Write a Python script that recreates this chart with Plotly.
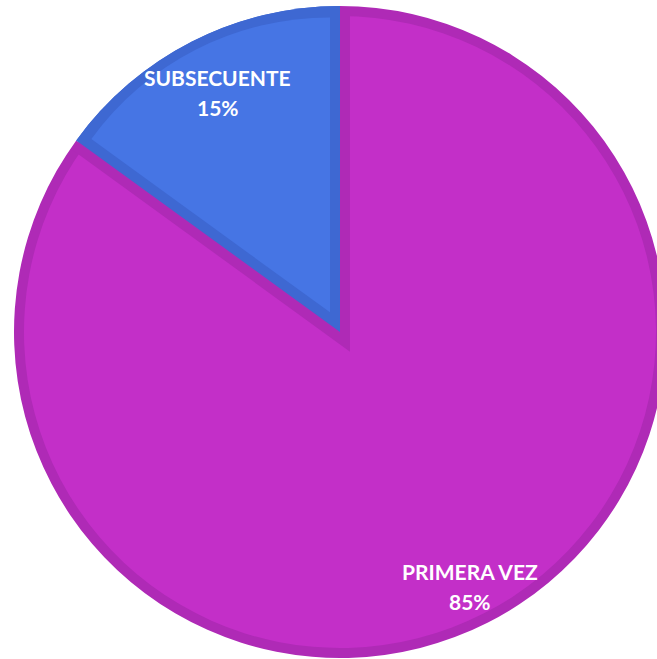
import math
import plotly.graph_objects as go

# --- data -------------------------------------------------------------
labels = ["PRIMERA VEZ", "SUBSECUENTE"]
values = [85, 15]

# --- styling ------------------------------------------------------------
LIGHT = ["#C32FC8", "#4675E4"]
DARK = ["#AF2AB6", "#3E68D2"]
CLEAR = "rgba(0,0,0,0)"

W, H = 700, 700          # canvas larger than the page; the pie runs off the right edge
CX, CY = 340.0, 332.0    # pie centre (px)
R = 326.0                # outer radius (px)
D = 10.0                 # inner border thickness (px)


def dom(cx, cy, r):
    """Pie domain (paper fractions) for a circle of radius r centred at (cx, cy) in px."""
    clamp = lambda v: min(1.0, max(0.0, v))
    return dict(x=[clamp((cx - r) / W), clamp((cx + r) / W)],
                y=[clamp(1 - (cy + r) / H), clamp(1 - (cy - r) / H)])


def direction(frac_angle):
    """Screen unit vector (y down) for a clockwise angle from 12 o'clock, given as a fraction of a turn."""
    a = 2 * math.pi * frac_angle
    return math.sin(a), -math.cos(a)


total = sum(values)
fracs = [v / total for v in values]
starts = [sum(fracs[:i]) for i in range(len(fracs))]
mids = [s + f / 2 for s, f in zip(starts, fracs)]

# geometry of the small (second) slice
half = math.pi * fracs[1]
bis = direction(mids[1])
shift = D / math.sin(half)          # apex offset that moves both straight edges by D

common = dict(values=values, labels=labels, sort=False, direction="clockwise",
              rotation=0, textinfo="none", hoverinfo="skip", showlegend=False)

fig = go.Figure()
# 1. outer rim colours
fig.add_trace(go.Pie(**common, marker=dict(colors=DARK), domain=dom(CX, CY, R)))
# 2. light fill of the large slice
fig.add_trace(go.Pie(**common, marker=dict(colors=[LIGHT[0], LIGHT[0]]),
                     domain=dom(CX, CY, R - D)))
# 3. border of the large slice along the small slice's edges (small wedge grown by D)
fig.add_trace(go.Pie(**common, marker=dict(colors=[CLEAR, DARK[0]]),
                     domain=dom(CX - shift * bis[0], CY - shift * bis[1], R + shift - 5)))
# 4. small slice border colour
fig.add_trace(go.Pie(**common, marker=dict(colors=[CLEAR, DARK[1]]), domain=dom(CX, CY, R)))
# 5. small slice light fill, inset by D
fig.add_trace(go.Pie(**common, marker=dict(colors=[CLEAR, LIGHT[1]]),
                     domain=dom(CX + shift * bis[0], CY + shift * bis[1], R - D - shift + 1)))

# --- labels -----------------------------------------------------------
label_r = [0.875, 0.825]
font = dict(family="Lato", size=21, color="white", weight="bold")
for name, v, m, rf in zip(labels, values, mids, label_r):
    ux, uy = direction(m)
    x = (CX + rf * R * ux) / W
    y = 1 - (CY + rf * R * uy) / H
    pct = f"{round(100 * v / total)}%"
    fig.add_annotation(x=x, y=y, xref="paper", yref="paper", text=name, showarrow=False,
                       font=font, yshift=15, xanchor="center", yanchor="middle")
    fig.add_annotation(x=x, y=y, xref="paper", yref="paper", text=pct, showarrow=False,
                       font=font, yshift=-15, xanchor="center", yanchor="middle")

fig.update_layout(width=W, height=H, margin=dict(l=0, r=0, t=0, b=0),
                  paper_bgcolor="white", plot_bgcolor="white")
fig.write_html("out.html")
